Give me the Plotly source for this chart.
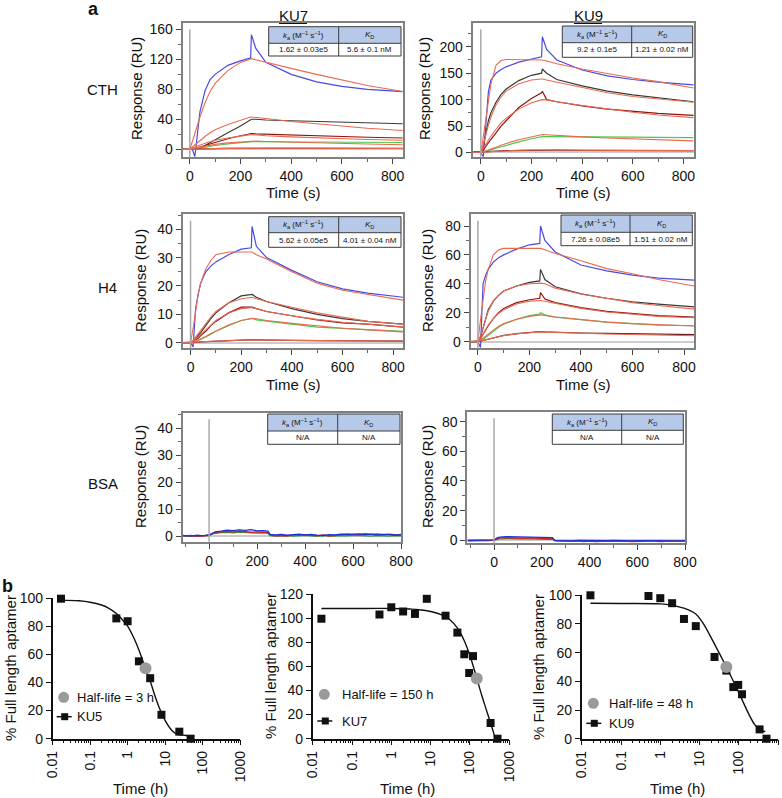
import plotly.graph_objects as go

W, H = 782, 798          # size of the reference picture
FONT = "Liberation Sans, Arial, Helvetica, sans-serif"

# ---------------- panel a: SPR sensorgrams ----------------
T_SPR = [-30, 0, 10, 20, 30, 40, 60, 80, 100, 150, 200, 240, 243, 260, 300, 400, 500, 600, 700, 840]

CTH_KU7_BLUE = [0, 0, 0, -10, 25, 50, 78, 93, 100, 112, 118, 122, 153, 135, 116, 100, 90, 84, 80, 77]
CTH_KU7_BLUE_FIT = [0, 0, 10, 22, 33, 43, 62, 77, 88, 105, 116, 121, 121, 119.5, 116, 108, 100, 92, 85, 77]
CTH_KU7_BLACK = [0, 0, 0, 0, 0, 1, 5, 9, 13, 22, 31, 40, 40, 40, 39, 38, 37, 36, 35, 34]
CTH_KU7_BLACK_FIT = [0, 0, 3, 6, 9, 12, 17, 22, 26, 33, 39, 43, 43, 42.5, 41, 37, 34, 31, 28, 25]
CTH_KU7_RED = [0, 0, 0, 1, 2, 3, 6, 8, 10, 14, 18, 21, 21, 20.5, 20, 19, 18, 17, 16, 15]
CTH_KU7_RED_FIT = [0, 0, 1.5, 3, 4.5, 6, 8, 10, 12, 15, 18, 19.5, 19.5, 19, 18, 16.5, 15, 14, 13, 12]
CTH_KU7_GREEN = [0, 0, 0, 0.5, 1, 1.5, 3, 4, 5, 7, 9, 10, 10, 10, 10, 9.5, 9.5, 9, 9, 9]
CTH_KU7_GREEN_FIT = [0, 0, 0.7, 1.5, 2.2, 3, 4.3, 5.5, 6.5, 8.5, 10, 11, 11, 10.8, 10.3, 9.3, 8.5, 7.8, 7, 6]
CTH_KU7_LOW = [0, 0, 0, 0, 0.1, 0.2, 0.3, 0.5, 0.7, 1, 1.3, 1.5, 1.5, 1.5, 1.4, 1.3, 1.2, 1.1, 1, 1]
CTH_KU7_LOW_FIT = [0, 0, 0.1, 0.2, 0.3, 0.4, 0.5, 0.6, 0.8, 1.1, 1.4, 1.6, 1.6, 1.6, 1.5, 1.4, 1.3, 1.2, 1.1, 1]

CTH_KU9_BLUE = [0, 0, -8, 60, 115, 137, 150, 157, 162, 171, 177, 181, 219, 195, 175, 156, 145, 138, 133, 128]
CTH_KU9_BLUE_FIT = [0, 0, 30, 65, 100, 130, 165, 174, 176, 176, 176, 175, 175, 173, 168, 158, 149, 141, 134, 122]
CTH_KU9_BLACK = [0, 0, 12, 40, 60, 75, 95, 110, 120, 136, 146, 150, 158, 150, 138, 126, 116, 109, 103, 96]
CTH_KU9_BLACK_FIT = [0, 0, 15, 35, 52, 67, 90, 105, 116, 130, 137, 139, 139, 137, 133, 122, 113, 106, 101, 95]
CTH_KU9_RED = [0, 0, 5, 12, 18, 25, 37, 50, 60, 85, 102, 113, 116, 100, 96, 88, 82, 78, 74, 70]
CTH_KU9_RED_FIT = [0, 0, 8, 16, 24, 31, 44, 56, 65, 82, 94, 100, 100, 99.5, 96, 89, 82, 76, 71, 66]
CTH_KU9_GREEN = [0, 0, 1, 2, 3, 5, 8, 11, 14, 20, 26, 30, 30, 30, 30, 29.5, 29, 29, 28.5, 28]
CTH_KU9_GREEN_FIT = [0, 0, 1.5, 3, 4.5, 6, 10, 13.5, 17, 24, 30, 34, 34, 33.5, 32, 29.5, 27.5, 25.5, 24, 22]
CTH_KU9_LOW = [0, 0, 0.5, 1, 1.5, 2, 2.5, 3, 3.5, 4, 4.5, 5, 5, 4.5, 4.5, 4, 4, 3.5, 3.5, 3.5]
CTH_KU9_LOW_FIT = [0, 0, 0.4, 0.8, 1.2, 1.6, 2.3, 3, 3.5, 4.2, 4.7, 5, 5, 4.9, 4.7, 4.3, 4, 3.8, 3.6, 3.4]

H4_KU7_BLUE = [0, 0, -1.5, 12, 17, 21, 25, 27, 28.5, 31, 33, 33.5, 41, 34, 30, 25.5, 21.5, 19, 17.5, 16]
H4_KU7_BLUE_FIT = [0, 0, 5, 12, 17, 21, 26, 29, 31, 32, 32, 32, 32, 31, 29.5, 25, 21, 18.5, 17, 15]
H4_KU7_BLACK = [0, 0, 0.5, 1.5, 2.5, 3.5, 6, 8.5, 10.5, 14, 16.5, 17, 17, 16, 14.5, 12, 10, 8.5, 7.5, 6.5]
H4_KU7_BLACK_FIT = [0, 0, 0.8, 2, 3, 4, 6.5, 9, 11, 14, 15.5, 16, 16, 15.5, 14.5, 12.5, 10.5, 9, 7.5, 6.5]
H4_KU7_RED = [0, 0, 0.5, 1, 1.5, 2.5, 4, 6, 7.5, 10.5, 12.5, 12.5, 12.5, 12, 11, 9.5, 8, 7, 6.5, 5.5]
H4_KU7_RED_FIT = [0, 0, 0.5, 1.2, 2, 2.8, 4.5, 6.2, 7.8, 10.5, 12, 12.3, 12.3, 12, 11, 9.5, 8.2, 7.2, 6.4, 5.5]
H4_KU7_GREEN = [0, 0, 0, 0.3, 0.7, 1, 2, 3, 4, 6, 7.8, 8.5, 8.5, 8, 7.5, 6.5, 5.5, 5, 4.5, 4]
H4_KU7_GREEN_FIT = [0, 0, 0.2, 0.5, 0.9, 1.3, 2.2, 3.2, 4.1, 6.2, 7.8, 8.6, 8.6, 8.4, 7.8, 6.8, 5.9, 5.1, 4.5, 3.8]
H4_KU7_LOW = [0, 0, 0, 0.1, 0.2, 0.3, 0.4, 0.5, 0.6, 0.8, 0.9, 1, 1, 1, 0.9, 0.8, 0.7, 0.6, 0.6, 0.5]
H4_KU7_LOW_FIT = [0, 0, 0.1, 0.15, 0.2, 0.3, 0.4, 0.5, 0.6, 0.75, 0.85, 0.95, 0.95, 0.95, 0.9, 0.8, 0.7, 0.65, 0.6, 0.55]

H4_KU9_BLUE = [0, 0, -4, 40, 46, 50, 55, 58, 60, 64, 67, 68, 80, 70, 62, 53, 49, 46, 44, 42.5]
H4_KU9_BLUE_FIT = [0, 0, 15, 30, 42, 50, 60, 63.5, 64.5, 64.5, 64.5, 64.5, 64.5, 63.5, 61, 56, 50.5, 47, 43, 38.5]
H4_KU9_BLACK = [0, 0, 3, 10, 17, 22, 28, 32, 35, 38.5, 41, 42, 50, 43, 38, 33, 30, 27.5, 26, 24]
H4_KU9_BLACK_FIT = [0, 0, 4, 10, 16, 21, 28, 32, 35, 38.5, 40, 40.5, 40.5, 40, 37, 33, 30, 27, 25, 22.5]
H4_KU9_RED = [0, 0, 2, 5, 8, 11, 16, 20, 23, 27, 29, 30, 34, 29.5, 27, 23.5, 21, 19.5, 18, 17]
H4_KU9_RED_FIT = [0, 0, 2.2, 5.5, 8.5, 11.5, 16, 19.5, 22, 26, 28, 28.5, 28.5, 28, 26.5, 23, 20.5, 19, 17.5, 16.5]
H4_KU9_GREEN = [0, 0, 0.5, 1.5, 3, 4.5, 7.5, 10, 12, 15.5, 18, 19, 20, 18.5, 17, 15, 13.5, 12.5, 11.5, 11]
H4_KU9_GREEN_FIT = [0, 0, 1, 2.5, 3.8, 5, 8, 10.5, 12.5, 15.5, 17.5, 18.5, 18.5, 18.2, 17, 15, 13.5, 12.5, 11.7, 10.8]
H4_KU9_LOW = [0, 0, 0.3, 0.8, 1.2, 1.8, 2.8, 3.6, 4.3, 5.6, 6.6, 7, 7, 6.8, 6.5, 6, 5.7, 5.3, 5, 4.8]
H4_KU9_LOW_FIT = [0, 0, 0.4, 0.9, 1.3, 1.8, 2.7, 3.5, 4.2, 5.4, 6.3, 6.8, 6.8, 6.6, 6.3, 5.8, 5.3, 4.9, 4.5, 4.1]

T_BSA = [-110, -75, -50, -25, 0, 15, 25, 50, 75, 100, 125, 150, 175, 200, 225, 245, 255, 275, 300,
         325, 350, 375, 400, 425, 450, 475, 500, 525, 550, 575, 600, 625, 650, 675, 700, 725, 750, 775, 800]
BSA_KU7_GREEN = [0.0, 0.1, 0.2, 0.0, 0.2, 0.8, 1.0, 1.3, 1.4, 1.2, 1.5, 1.3, 1.2, 1.1, 1.2, 1.0, 0.2, 0.0, 0.1,
                 0.2, 0.0, 0.1, 0.3, 0.1, 0.0, 0.2, 0.1, 0.0, 0.2, 0.1, 0.3, 0.2, 0.1, 0.0, 0.2, 0.1, 0.0, 0.2, 0.1]
BSA_KU7_RED = [0.1, 0.2, -0.1, 0.2, 0.3, 1.0, 1.3, 1.6, 1.7, 1.5, 1.8, 1.6, 1.4, 1.5, 1.3, 1.4, 0.3, 0.1, 0.2,
               0.0, 0.4, 0.3, 0.5, 0.2, 0.1, 0.4, 0.0, 0.3, 0.6, 0.8, 0.7, 0.5, 0.9, 0.6, 0.8, 0.5, 0.7, 0.4, 0.3]
BSA_KU7_BLUE = [0.2, 0.0, 0.3, 0.1, 0.4, 1.2, 1.5, 1.8, 2.2, 2.0, 2.3, 2.1, 2.4, 1.9, 2.0, 1.8, 0.6, 0.4, 0.6,
                0.3, 0.5, 0.7, 0.4, 0.6, 0.3, 0.2, 0.5, 0.4, 0.7, 0.5, 0.6, 0.8, 0.5, 0.7, 0.4, 0.6, 0.5, 0.3, 0.6]
BSA_KU9_GREEN = [0.0, -0.2, 0.1, -0.1, 0.2, 0.8, 1.0, 1.2, 1.1, 1.3, 1.0, 1.1, 0.9, 1.0, 0.8, 0.7, -0.2, -0.4, -0.3,
                 -0.5, -0.3, -0.4, -0.6, -0.3, -0.5, -0.4, -0.2, -0.5, -0.3, -0.6, -0.4, -0.3, -0.5, -0.2, -0.4, -0.6, -0.3, -0.5, -0.4]
BSA_KU9_RED = [-0.3, -0.1, -0.4, -0.2, 0.0, 1.2, 1.6, 1.8, 1.5, 1.7, 1.4, 1.6, 1.3, 1.2, 1.0, 0.9, -0.3, -0.6, -0.5,
               -0.7, -0.4, -0.8, -0.5, -0.9, -0.6, -0.5, -0.7, -0.4, -0.6, -0.8, -0.5, -0.7, -0.4, -0.6, -0.9, -0.5, -0.6, -0.8, -0.5]
BSA_KU9_BLUE = [-0.1, 0.1, -0.2, 0.0, 0.3, 1.8, 2.2, 2.5, 2.4, 2.6, 2.3, 2.5, 2.2, 2.1, 1.9, 1.8, 0.0, -0.2, 0.0,
                -0.3, -0.1, -0.2, -0.4, -0.1, -0.3, -0.2, 0.0, -0.3, -0.1, -0.4, -0.2, -0.1, -0.3, 0.0, -0.2, -0.3, -0.1, -0.3, -0.2]

# table values
TABLE_HEAD = ["<i>k</i><sub>a</sub> (M<sup>−1</sup> s<sup>−1</sup>)", "<i>K</i><sub>D</sub>"]
CTH_KU7_TABLE = ["1.62 ± 0.03e5", "5.6 ± 0.1 nM"]
CTH_KU9_TABLE = ["9.2 ± 0.1e5", "1.21 ± 0.02 nM"]
H4_KU7_TABLE = ["5.62 ± 0.05e5", "4.01 ± 0.04 nM"]
H4_KU9_TABLE = ["7.26 ± 0.08e5", "1.51 ± 0.02 nM"]
BSA_TABLE = ["N/A", "N/A"]

# ---------------- panel b: aptamer stability ----------------
T_KU5 = [1 / 60, 0.5, 1, 2, 4, 8, 24, 48]
Y_KU5 = [99.5, 85.5, 83.5, 55, 43, 17, 5, 0]
FIT_KU5_T = [1 / 60, 0.05, 0.1, 0.2, 0.3, 0.5, 0.7, 1, 1.5, 2, 3, 4, 5, 7, 10, 15, 20, 30, 50]
FIT_KU5_Y = [98.5, 98, 97, 95, 93, 89, 85, 80, 71, 63, 50, 41, 33, 22, 13, 6, 3.5, 2.5, 2]
HALF_KU5 = 3

T_KU7 = [1 / 60, 0.5, 1, 2, 4, 8, 24, 48, 72, 96, 120, 336, 504]
Y_KU7 = [99.5, 103, 109, 105.5, 103.5, 116, 102, 88, 70, 54.5, 68.5, 13, 0]
FIT_KU7_T = [1 / 60, 0.1, 1, 3, 5, 10, 20, 30, 50, 70, 100, 150, 200, 250, 300, 350, 400, 440]
FIT_KU7_Y = [108, 108, 108, 107.5, 107, 105.5, 102.5, 99, 91, 82, 69, 50, 36, 26, 18, 11, 5, 0]
HALF_KU7 = 150

T_KU9 = [1 / 60, 0.5, 1, 2, 4, 8, 24, 48, 72, 96, 120, 336, 504]
Y_KU9 = [100, 99.5, 98, 94.5, 83.5, 78.5, 57, 47.5, 36, 37.5, 31, 6.5, 0]
FIT_KU9_T = [1 / 60, 0.1, 1, 2, 4, 8, 12, 24, 48, 96, 180, 250, 336, 470]
FIT_KU9_Y = [94.5, 94.3, 94, 93, 91, 87, 81, 66, 50, 33, 17, 10, 6, 5]
HALF_KU9 = 48

DATA_COLORS = ["#4a4ae0", "#3a3a3a", "#8e1414", "#4cc84c", "#6e1a1a"]
FIT_COLOR = "#ea6a50"
FRAME = "#808080"
TICK = 14
TITLE = 15


# all positions below are pixels of the reference picture
def px(x):
    return x / W


def py(y):
    return 1 - y / H


def xdom(p0, p1):
    return [px(p0), px(p1)]


def ydom(p0, p1):
    return [py(p1), py(p0)]


def ax_ids(i):
    s = "" if i == 1 else str(i)
    return f"x{s}", f"y{s}", f"xaxis{s}", f"yaxis{s}"


def text_at(text, x, y, size, angle=0, xanchor="center", color="#111"):
    fig.add_annotation(text=text, x=px(x), y=py(y), xref="paper", yref="paper", showarrow=False,
                       xanchor=xanchor, yanchor="middle", textangle=angle,
                       font=dict(size=size, family=FONT, color=color))


def paper_line(x0, y0, x1, y1, color="#111", width=1):
    fig.add_shape(type="line", xref="paper", yref="paper", x0=px(x0), x1=px(x1), y0=py(y0), y1=py(y1),
                  line=dict(color=color, width=width))


def paper_box(kind, x0, y0, x1, y1, fill):
    fig.add_shape(type=kind, xref="paper", yref="paper", x0=px(x0), x1=px(x1), y0=py(y1), y1=py(y0),
                  fillcolor=fill, line=dict(width=0))


fig = go.Figure()
layout = {}

# px boxes and ranges of the six sensorgram panels
spr_panels = [
    # (x px, y px, x range, y range, y ticks, y minor, series, table, table box)
    ((182.7, 403), (22.7, 156.7), [-28, 841], [-10, 169], [0, 40, 80, 120, 160], 20,
     [(CTH_KU7_BLUE, CTH_KU7_BLUE_FIT), (CTH_KU7_BLACK, CTH_KU7_BLACK_FIT), (CTH_KU7_RED, CTH_KU7_RED_FIT),
      (CTH_KU7_GREEN, CTH_KU7_GREEN_FIT), (CTH_KU7_LOW, CTH_KU7_LOW_FIT)],
     CTH_KU7_TABLE, (268.7, 338.7, 401, 26.7, 43.3, 56)),
    ((472.7, 694.3), (22.7, 156.7), [-32, 843], [-8, 245.5], [0, 50, 100, 150, 200], 25,
     [(CTH_KU9_BLUE, CTH_KU9_BLUE_FIT), (CTH_KU9_BLACK, CTH_KU9_BLACK_FIT), (CTH_KU9_RED, CTH_KU9_RED_FIT),
      (CTH_KU9_GREEN, CTH_KU9_GREEN_FIT), (CTH_KU9_LOW, CTH_KU9_LOW_FIT)],
     CTH_KU9_TABLE, (562.3, 631.7, 692.7, 26, 42.7, 57.3)),
    ((182.7, 403), (214, 348.3), [-31, 839], [-2, 45.4], [0, 10, 20, 30, 40], 5,
     [(H4_KU7_BLUE, H4_KU7_BLUE_FIT), (H4_KU7_BLACK, H4_KU7_BLACK_FIT), (H4_KU7_RED, H4_KU7_RED_FIT),
      (H4_KU7_GREEN, H4_KU7_GREEN_FIT), (H4_KU7_LOW, H4_KU7_LOW_FIT)],
     H4_KU7_TABLE, (268.7, 338.7, 401, 216.7, 232.7, 247.3)),
    ((470.7, 694.3), (214, 348.3), [-28, 840], [-4.6, 88.3], [0, 20, 40, 60, 80], 10,
     [(H4_KU9_BLUE, H4_KU9_BLUE_FIT), (H4_KU9_BLACK, H4_KU9_BLACK_FIT), (H4_KU9_RED, H4_KU9_RED_FIT),
      (H4_KU9_GREEN, H4_KU9_GREEN_FIT), (H4_KU9_LOW, H4_KU9_LOW_FIT)],
     H4_KU9_TABLE, (561, 630, 692.3, 215, 232.3, 245.7)),
    ((182.7, 401), (412.7, 541.7), [-110, 800], [-2.1, 45.8], [0, 10, 20, 30, 40], 5,
     [BSA_KU7_GREEN, BSA_KU7_RED, BSA_KU7_BLUE], BSA_TABLE, (267.7, 337.7, 400, 414, 431, 444.3)),
    ((467.3, 685), (411.7, 543.3), [-112, 800], [-2, 86.7], [0, 20, 40, 60, 80], 10,
     [BSA_KU9_GREEN, BSA_KU9_RED, BSA_KU9_BLUE], BSA_TABLE, (552.3, 621.7, 683.3, 414, 430.3, 444.3)),
]
BSA_COLORS = ["#2f9a2f", "#d42020", "#2030d8"]

for i, (xp, yp, xr, yr, yt, ym, series, tab, tb) in enumerate(spr_panels, start=1):
    xa, ya, xk, yk = ax_ids(i)
    bsa = i >= 5
    layout[xk] = dict(
        domain=xdom(*xp), range=xr, anchor=ya, tickvals=[0, 200, 400, 600, 800], automargin=False,
        ticks="outside", ticklen=5, tickwidth=1.2, tickcolor="#444",
        minor=dict(ticks="outside", ticklen=3, dtick=100, tickcolor="#666"),
        showline=True, mirror=True, linecolor=FRAME, linewidth=2, showgrid=False, zeroline=False,
        tickfont=dict(size=TICK, family=FONT, color="#111"))
    layout[yk] = dict(
        domain=ydom(*yp), range=yr, anchor=xa, tickvals=yt, automargin=False,
        ticks="outside", ticklen=5, tickwidth=1.2, tickcolor="#444",
        minor=dict(ticks="outside", ticklen=3, dtick=ym, tickcolor="#666"),
        showline=True, mirror=True, linecolor=FRAME, linewidth=2, showgrid=False,
        zeroline=True, zerolinecolor="#cccccc", zerolinewidth=1.5,
        tickfont=dict(size=TICK, family=FONT, color="#111"))
    # injection marker
    fig.add_shape(type="line", xref=xa, yref=f"{ya} domain", x0=0, x1=0, y0=0, y1=0.95,
                  line=dict(color="#a8a8a8", width=1.5))
    if bsa:
        for ys, c in zip(series, BSA_COLORS):
            fig.add_trace(go.Scatter(x=T_BSA, y=ys, mode="lines", line=dict(color=c, width=1.3),
                                     xaxis=xa, yaxis=ya, showlegend=False))
    else:
        for (ys, _), c in zip(series, DATA_COLORS):
            fig.add_trace(go.Scatter(x=T_SPR, y=ys, mode="lines", line=dict(color=c, width=1.2),
                                     xaxis=xa, yaxis=ya, showlegend=False))
        for _, fs in series:
            fig.add_trace(go.Scatter(x=T_SPR, y=fs, mode="lines", line=dict(color=FIT_COLOR, width=1.1),
                                     xaxis=xa, yaxis=ya, showlegend=False))
    # kinetics table
    x0, xd, x1, y0, ym_, y1 = tb
    paper_box("rect", x0, y0, x1, ym_, "#b7c9e9")
    paper_box("rect", x0, ym_, x1, y1, "white")
    for (a0, b0, a1, b1) in [(x0, y0, x1, y0), (x0, ym_, x1, ym_), (x0, y1, x1, y1),
                             (x0, y0, x0, y1), (xd, y0, xd, y1), (x1, y0, x1, y1)]:
        paper_line(a0, b0, a1, b1, color="#3a3a3a")
    for cx, head, val in [((x0 + xd) / 2, TABLE_HEAD[0], tab[0]), ((xd + x1) / 2, TABLE_HEAD[1], tab[1])]:
        text_at(head, cx, (y0 + ym_) / 2, 8)
        text_at(val, cx, (ym_ + y1) / 2, 8)

# ---------------- panel b axes ----------------
b_panels = [
    ((52.7, 240), (598, 738.7), [0, 100], [0, 20, 40, 60, 80, 100], T_KU5, Y_KU5, FIT_KU5_T, FIT_KU5_Y, HALF_KU5,
     "Half-life = 3 h", "KU5", (63.7, 697.3, 716.7, 75)),
    ((312.7, 509.2), (594, 738.7), [0, 120], [0, 20, 40, 60, 80, 100, 120], T_KU7, Y_KU7, FIT_KU7_T, FIT_KU7_Y,
     HALF_KU7, "Half-life = 150 h", "KU7", (324.3, 694.3, 721, 340)),
    ((581.7, 778.2), (595.3, 738.7), [0, 100], [0, 20, 40, 60, 80, 100], T_KU9, Y_KU9, FIT_KU9_T, FIT_KU9_Y,
     HALF_KU9, "Half-life = 48 h", "KU9", (593.3, 703.3, 723.3, 607.3)),
]
minor_logs = [m * 10 ** e for e in range(-2, 3) for m in range(2, 10)]
for j, (xp, yp, yr, yt, tt, yy, ft, fy, half, hl_text, name, leg) in enumerate(b_panels, start=7):
    xa, ya, xk, yk = ax_ids(j)
    layout[xk] = dict(
        domain=xdom(*xp), type="log", range=[-2, 3], anchor=ya, automargin=False,
        tickvals=[0.01, 0.1, 1, 10, 100, 1000], ticktext=["0.01", "0.1", "1", "10", "100", "1000"],
        tickangle=-90, ticks="outside", ticklen=5, tickwidth=1.2, tickcolor="#111",
        minor=dict(ticks="outside", ticklen=2.5, tickvals=minor_logs, tickcolor="#111"),
        showline=True, linecolor="#111", linewidth=1.5, showgrid=False, zeroline=False,
        tickfont=dict(size=TICK, family=FONT, color="#111"))
    layout[yk] = dict(
        domain=ydom(*yp), range=yr, anchor=xa, tickvals=yt, ticks="outside", ticklen=5, automargin=False,
        tickwidth=1.2, tickcolor="#111", showline=True, linecolor="#111", linewidth=1.5,
        showgrid=False, zeroline=False, tickfont=dict(size=TICK, family=FONT, color="#111"))
    fig.add_trace(go.Scatter(x=ft, y=fy, mode="lines", line=dict(color="#111", width=1.4, shape="spline"),
                             xaxis=xa, yaxis=ya, showlegend=False, cliponaxis=False))
    fig.add_trace(go.Scatter(x=tt, y=yy, mode="markers", marker=dict(symbol="square", size=8, color="#111"),
                             xaxis=xa, yaxis=ya, showlegend=False, cliponaxis=False))
    fig.add_trace(go.Scatter(x=[half], y=[50], mode="markers", marker=dict(symbol="circle", size=12, color="#9a9a9a"),
                             xaxis=xa, yaxis=ya, showlegend=False, cliponaxis=False))
    # legend
    cx, cy1, cy2, tx = leg
    paper_box("circle", cx - 5.5, cy1 - 5.5, cx + 5.5, cy1 + 5.5, "#9a9a9a")
    paper_line(cx - 7, cy2, cx + 8, cy2, width=1.5)
    paper_box("rect", cx - 2.5, cy2 - 3.5, cx + 4.5, cy2 + 3.5, "#111")
    text_at(hl_text, tx, cy1, 13, xanchor="left")
    text_at(name, tx, cy2, 13, xanchor="left")

text_at("<b>a</b>", 93, 9, 18)
text_at("<b>b</b>", 7, 586, 18)
text_at("KU7", 293, 15, TITLE)
text_at("KU9", 588, 15, TITLE)
paper_line(279, 23.5, 307, 23.5)
paper_line(574, 23.5, 602, 23.5)
text_at("CTH", 103, 90, 15)
text_at("H4", 108, 287, 15)
text_at("BSA", 103, 483, 15)
for x, y in [(137, 89), (425, 89), (141, 281), (428, 281), (140, 477), (427, 477)]:
    text_at("Response (RU)", x, y, TITLE, angle=-90)
for x, y in [(293, 192), (583, 192), (293, 385), (583, 385)]:
    text_at("Time (s)", x, y, TITLE)
for x, y in [(10, 668), (270, 666), (538, 667)]:
    text_at("% Full length aptamer", x, y, TITLE, angle=-90)
for x in [140, 407, 677]:
    text_at("Time (h)", x, 788, TITLE)

fig.update_layout(
    width=W, height=H, margin=dict(l=0, r=0, t=0, b=0, autoexpand=False),
    paper_bgcolor="white", plot_bgcolor="white", showlegend=False,
    font=dict(family=FONT, color="#111"), **layout)

# drop the page's default body margin so the figure sits at the window's top-left corner
fig.write_html("out.html", config={"displayModeBar": False},
               post_script="document.body.style.margin = '0px';")
